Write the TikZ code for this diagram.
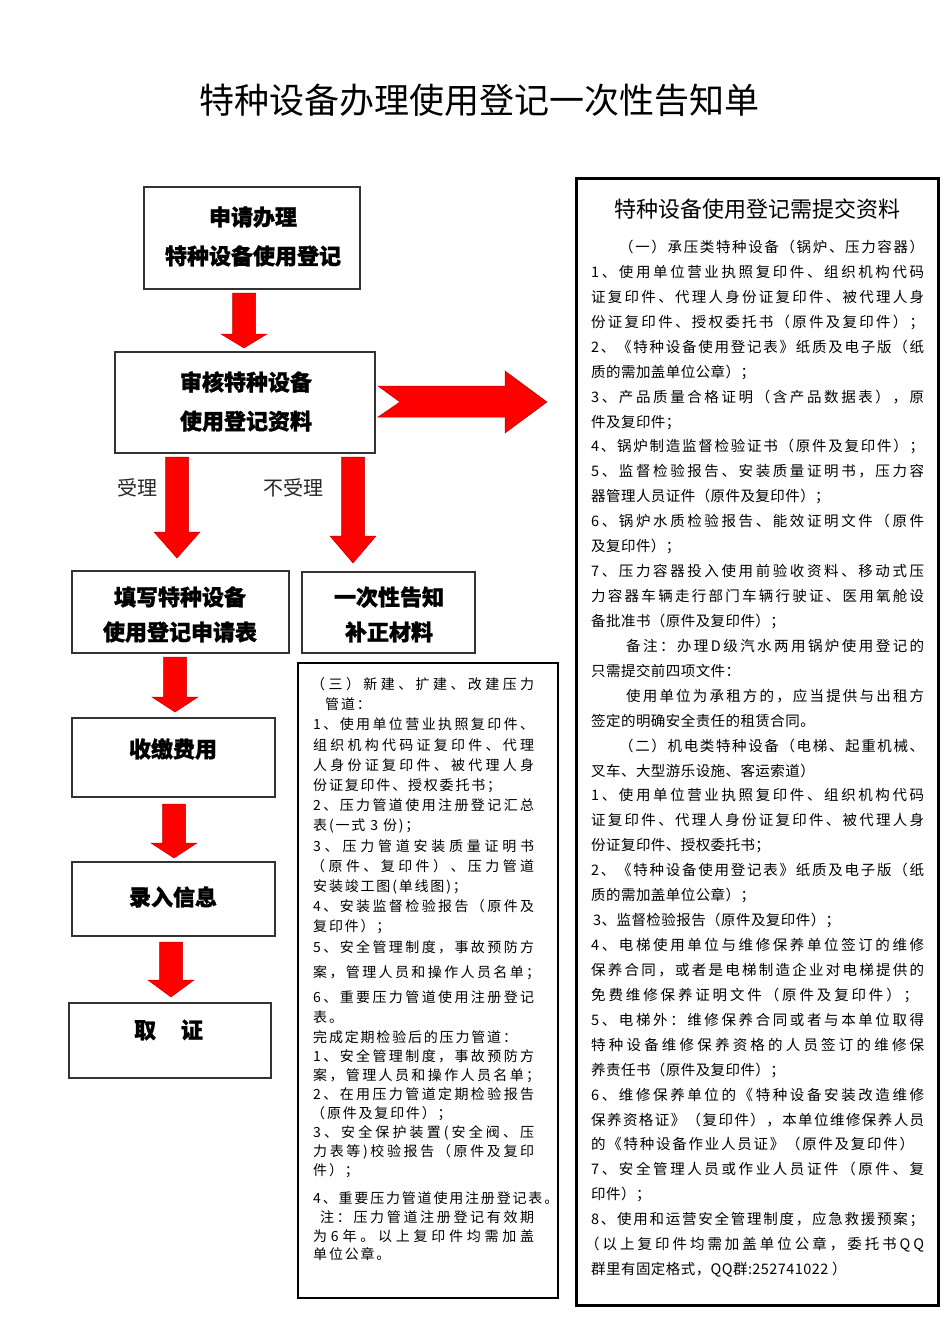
\documentclass[tikz,border=0pt]{standalone}
\usepackage{fontspec}
\setmainfont{Noto Sans CJK SC}
\newfontfamily\fR{Noto Sans CJK SC}
\newfontfamily\fH{Noto Sans CJK SC}[BoldFeatures={FakeBold=1.2}]
\newfontfamily\fRn{Noto Sans CJK SC}[LetterSpace=3]
\newfontfamily\fMn{Noto Sans CJK SC}[LetterSpace=13]
\usetikzlibrary{calc}
\definecolor{arrowred}{RGB}{255,0,0}
\def\jlEnd{\relax}
\newcommand\jline[2]{\hbox to #1{\jlFirst#2\jlEnd}}
\def\jlFirst#1{#1\jlNext}
\def\jlNext#1{\ifx\jlEnd#1\else\hfil#1\expandafter\jlNext\fi}
% right box lines: name, line index, x start, width, text
\newcommand\rj[5]{\node[rbody] (#1) at (#3,{247+24.93*(#2-1)+5.5}) {\jline{#4pt}{#5}};}
\newcommand\rn[4]{\node[rbodyn] (#1) at (#3,{247+24.93*(#2-1)+5.5}) {#4};}
% middle box lines: name, y centre, x start, width, text
\newcommand\mj[5]{\node[mbody] (#1) at (#3,{#2+5.3}) {\jline{#4pt}{#5}};}
\newcommand\mn[4]{\node[mbodyn] (#1) at (#3,{#2+5.3}) {#4};}
\newcommand\downblock[4]{\fill[arrowfill] ({#1-11.5},#2) -- ({#1+11.5},#2) -- ({#1+11.5},#3) -- ({#1+23},#3) -- (#1,#4) -- ({#1-23},#3) -- ({#1-11.5},#3) -- cycle;}
\tikzset{
  flowbox/.style={draw=black!80, line width=1.1pt, inner sep=0pt},
  boxtext/.style={font=\fH\fontsize{22}{39}\selectfont\bfseries, align=center, inner sep=0pt},
  lbl/.style={font=\fR\fontsize{20}{20}\selectfont, text=black!85, inner sep=0pt},
  rbody/.style={anchor=base west, inner sep=0pt, font=\fR\fontsize{14.5}{14.5}\selectfont},
  rbodyn/.style={anchor=base west, inner sep=0pt, font=\fRn\fontsize{14.5}{14.5}\selectfont},
  mbody/.style={anchor=base west, inner sep=0pt, font=\fR\fontsize{14}{14}\selectfont},
  mbodyn/.style={anchor=base west, inner sep=0pt, font=\fMn\fontsize{14}{14}\selectfont},
  arrowfill/.style={fill=arrowred, draw=red!75!black, line width=0.5pt}
}
\begin{document}
\begin{tikzpicture}[x=1pt,y=-1pt]
\fill[white] (0,0) rectangle (950,1344);
\useasboundingbox (0,0) rectangle (950,1344);

\node[font=\fR\fontsize{35}{35}\selectfont, inner sep=0pt] (title) at (479,100) {特种设备办理使用登记一次性告知单};

% flow boxes
\node[flowbox, minimum width=216pt, minimum height=102pt] (b1) at (252,238) {};
\node[flowbox, minimum width=260pt, minimum height=101pt] (b2) at (245,402.5) {};
\node[flowbox, minimum width=217pt, minimum height=82pt] (b3) at (180.5,612) {};
\node[flowbox, minimum width=173pt, minimum height=81pt] (b4) at (388.5,612.5) {};
\node[flowbox, minimum width=203pt, minimum height=79pt] (b5) at (173.5,757.5) {};
\node[flowbox, minimum width=203pt, minimum height=74pt] (b6) at (173.5,899) {};
\node[flowbox, minimum width=202pt, minimum height=75pt] (b7) at (170,1040.5) {};

\node[boxtext] (t1) at (253,236.5) {申请办理\\特种设备使用登记};
\node[boxtext] (t2) at (246,401.5) {审核特种设备\\使用登记资料};
\node[boxtext, font=\fH\fontsize{22}{35}\selectfont\bfseries] (t3) at (180,614.5) {填写特种设备\\使用登记申请表};
\node[boxtext, font=\fH\fontsize{22}{35}\selectfont\bfseries] (t4) at (389,614.5) {一次性告知\\补正材料};
\node[boxtext] (t5) at (173,749) {收缴费用};
\node[boxtext] (t6) at (173,897) {录入信息};
\node[boxtext] (t7) at (168.5,1030) {取\hspace{25pt}证};

\node[lbl] (l1) at (137,488) {受理};
\node[lbl] (l2) at (293,488) {不受理};

% arrows
\downblock{244}{293}{334}{348}
\downblock{177}{457}{532}{558}
\downblock{353}{457}{536}{563}
\downblock{175}{657}{697}{712}
\downblock{174}{804}{843}{858}
\downblock{171}{942}{980}{997}
\fill[arrowfill] (378,386) -- (505,386) -- (505,371) -- (547,402) -- (505,433) -- (505,417) -- (378,417) -- (400,402) -- cycle;

% right box
\node[draw=black, line width=3pt, minimum width=362pt, minimum height=1127pt, inner sep=0pt] (rbox) at (757,741.5) {};
\node[font=\fR\fontsize{22}{22}\selectfont, inner sep=0pt] (rtitle) at (757,209) {特种设备使用登记需提交资料};
\rj{r1}{1}{619}{305}{（一）承压类特种设备（锅炉、压力容器）}
\rj{r2}{2}{591}{333}{1、使用单位营业执照复印件、组织机构代码}
\rj{r3}{3}{591}{333}{证复印件、代理人身份证复印件、被代理人身}
\rj{r4}{4}{591}{333}{份证复印件、授权委托书（原件及复印件）；}
\rj{r5}{5}{591}{333}{2、《特种设备使用登记表》纸质及电子版（纸}
\rn{r6}{6}{591}{质的需加盖单位公章）；}
\rj{r7}{7}{591}{333}{3、产品质量合格证明（含产品数据表），原}
\rn{r8}{8}{591}{件及复印件；}
\rj{r9}{9}{591}{333}{4、锅炉制造监督检验证书（原件及复印件）；}
\rj{r10}{10}{591}{333}{5、监督检验报告、安装质量证明书，压力容}
\rn{r11}{11}{591}{器管理人员证件（原件及复印件）；}
\rj{r12}{12}{591}{333}{6、锅炉水质检验报告、能效证明文件（原件}
\rn{r13}{13}{591}{及复印件）；}
\rj{r14}{14}{591}{333}{7、压力容器投入使用前验收资料、移动式压}
\rj{r15}{15}{591}{333}{力容器车辆走行部门车辆行驶证、医用氧舱设}
\rn{r16}{16}{591}{备批准书（原件及复印件）；}
\rj{r17}{17}{626}{298}{备注：办理D级汽水两用锅炉使用登记的}
\rn{r18}{18}{591}{只需提交前四项文件：}
\rj{r19}{19}{626}{298}{使用单位为承租方的，应当提供与出租方}
\rn{r20}{20}{591}{签定的明确安全责任的租赁合同。}
\rj{r21}{21}{619}{305}{（二）机电类特种设备（电梯、起重机械、}
\rn{r22}{22}{591}{叉车、大型游乐设施、客运索道）}
\rj{r23}{23}{591}{333}{1、使用单位营业执照复印件、组织机构代码}
\rj{r24}{24}{591}{333}{证复印件、代理人身份证复印件、被代理人身}
\rn{r25}{25}{591}{份证复印件、授权委托书；}
\rj{r26}{26}{591}{333}{2、《特种设备使用登记表》纸质及电子版（纸}
\rn{r27}{27}{591}{质的需加盖单位公章）；}
\rn{r28}{28}{593}{3、监督检验报告（原件及复印件）；}
\rj{r29}{29}{591}{333}{4、电梯使用单位与维修保养单位签订的维修}
\rj{r30}{30}{591}{333}{保养合同，或者是电梯制造企业对电梯提供的}
\rj{r31}{31}{591}{327}{免费维修保养证明文件（原件及复印件）；}
\rj{r32}{32}{591}{333}{5、电梯外：维修保养合同或者与本单位取得}
\rj{r33}{33}{591}{333}{特种设备维修保养资格的人员签订的维修保}
\rn{r34}{34}{591}{养责任书（原件及复印件）；}
\rj{r35}{35}{591}{333}{6、维修保养单位的《特种设备安装改造维修}
\rj{r36}{36}{591}{333}{保养资格证》（复印件），本单位维修保养人员}
\rj{r37}{37}{591}{323}{的《特种设备作业人员证》（原件及复印件）}
\rj{r38}{38}{591}{333}{7、安全管理人员或作业人员证件（原件、复}
\rn{r39}{39}{591}{印件）；}
\rj{r40}{40}{591}{333}{8、使用和运营安全管理制度，应急救援预案；}
\rj{r41}{41}{585}{339}{（以上复印件均需加盖单位公章，委托书QQ}
\rn{r42}{42}{591}{群里有固定格式，QQ群:252741022 ）}

% middle box
\node[draw=black, line width=2pt, minimum width=260pt, minimum height=635pt, inner sep=0pt] (mbox) at (428,980.5) {};
\mj{m1}{684}{311}{223}{（三）新建、扩建、改建压力}
\mn{m2}{704}{325}{管道：}
\mj{m3}{724}{313}{221}{1、使用单位营业执照复印件、}
\mj{m4}{745}{313}{221}{组织机构代码证复印件、代理}
\mj{m5}{765}{313}{221}{人身份证复印件、被代理人身}
\mn{m6}{785}{313}{份证复印件、授权委托书；}
\mj{m7}{805}{313}{221}{2、压力管道使用注册登记汇总}
\mn{m8}{825}{313}{表(一式 3 份)；}
\mj{m9}{846}{313}{221}{3、压力管道安装质量证明书}
\mj{m10}{866}{311}{223}{（原件、复印件）、压力管道}
\mn{m11}{886}{313}{安装竣工图(单线图)；}
\mj{m12}{906}{313}{221}{4、安装监督检验报告（原件及}
\mn{m13}{926}{313}{复印件）；}
\mj{m14}{947}{313}{221}{5、安全管理制度，事故预防方}
\mj{m15}{972}{313}{227}{案，管理人员和操作人员名单；}
\mj{m16}{997}{313}{221}{6、重要压力管道使用注册登记}
\mn{m17}{1017}{313}{表。}
\mn{m18}{1037}{313}{完成定期检验后的压力管道：}
\mj{m19}{1056}{313}{221}{1、安全管理制度，事故预防方}
\mj{m20}{1075}{313}{227}{案，管理人员和操作人员名单；}
\mj{m21}{1094}{313}{221}{2、在用压力管道定期检验报告}
\mn{m22}{1113}{311}{（原件及复印件）；}
\mj{m23}{1132}{313}{221}{3、安全保护装置(安全阀、压}
\mj{m24}{1151}{313}{221}{力表等)校验报告（原件及复印}
\mn{m25}{1170}{313}{件）；}
\mn{m26}{1198}{313}{4、重要压力管道使用注册登记表。}
\mj{m27}{1217}{320}{214}{注：压力管道注册登记有效期}
\mj{m28}{1236}{313}{221}{为6年。以上复印件均需加盖}
\mn{m29}{1254}{313}{单位公章。}
\end{tikzpicture}
\end{document}
